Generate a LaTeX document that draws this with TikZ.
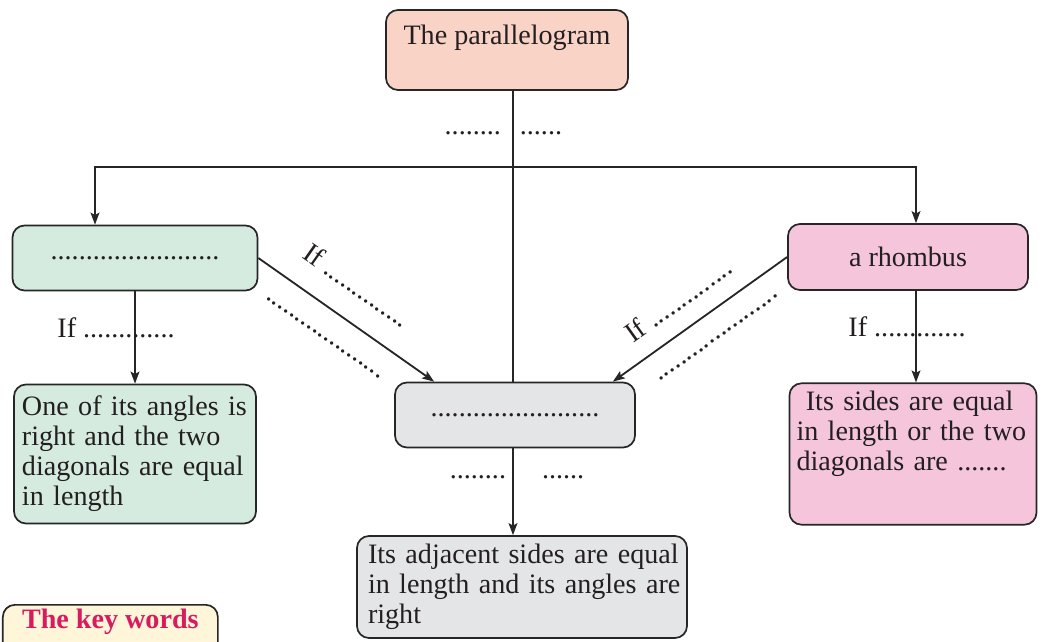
\documentclass[tikz,border=0pt]{standalone}
\usepackage{fontspec}
\setmainfont{Liberation Serif}
\usetikzlibrary{arrows.meta,positioning}
\definecolor{ink}{HTML}{231F20}
\definecolor{line}{HTML}{262626}
\definecolor{peach}{HTML}{F9D4C6}
\definecolor{mint}{HTML}{D6EBDF}
\definecolor{rose}{HTML}{F5C5DC}
\definecolor{mist}{HTML}{E4E5E7}
\definecolor{cream}{HTML}{FFF5D9}
\definecolor{keyred}{HTML}{D81B5E}

\begin{document}
\begin{tikzpicture}[
  x=0.25mm, y=-0.25mm,
  text=ink,
  font=\fontsize{20}{21.3}\selectfont,
  box/.style={draw=line, line width=1.2pt, rounded corners=3mm, inner sep=2mm},
  note/.style={box, minimum height=34.75mm, align=left},
  arrow/.style={-{Stealth[length=3mm, width=2.2mm, inset=.6mm]}, draw=line, line width=1.3pt},
  link/.style={draw=line, line width=1.3pt},
  hint/.style={inner sep=0pt, text depth=0pt}
]
  \useasboundingbox (0,0) rectangle (1044,642);
  \clip (0,0) rectangle (1044,642);
  \node[box, fill=peach, minimum width=60.5mm, inner ysep=0pt,
    text height=8.75mm, text depth=11.25mm] (parallelogram) at (507,50)
    {The parallelogram};
  \node[box, fill=mint, minimum width=61.25mm, minimum height=16.25mm] (rectangle) at (135,258)
    {........................};
  \node[box, fill=rose, minimum width=60mm, minimum height=16.5mm] (rhombus) at (908,257)
    {a rhombus};
  \node[box, fill=mist, minimum width=60mm, minimum height=16.25mm] (square) at (515,415)
    {........................};
  \node[note, fill=mint, minimum width=60.5mm, text width=56.5mm] (rectprop) at (135,454)
    {One of its angles is\\right and the two\\diagonals are equal\\in length};
  \node[note, fill=rose, minimum width=61.75mm, text width=58.25mm, inner xsep=1.75mm] (rhombprop) at (913,454)
    {\ Its sides are equal\\in length or the two\\diagonals are .......\\[4mm]\mbox{}};
  \node[box, fill=mist, minimum width=82.5mm, minimum height=25.5mm, text width=80mm,
    inner xsep=1.25mm, align=left] (squareprop) at (522,587)
    {\hspace{1.5mm}Its adjacent sides are equal\\\hspace{1.5mm}in length and its angles are\\\hspace{1.5mm}right};
  \node[box, fill=cream, text=keyred, font=\fontsize{20}{21.3}\selectfont\bfseries,
    anchor=north west, minimum width=53.75mm, inner ysep=0pt,
    text height=6mm, text depth=8mm] (keywords) at (2,604) {The key words};

  \coordinate (hub) at (513,167);
  \coordinate (leftdrop) at (95,167);
  \coordinate (rightdrop) at (916,167);

  \draw[link] (parallelogram.south -| hub) -- (square.north -| hub)
    node[pos=.15, anchor=base, xshift=-2.4mm, hint] {........\hspace{4.75mm}......};
  \draw[arrow] (hub) -| (rectangle.north -| leftdrop);
  \draw[arrow] (hub) -| (rhombus.north -| rightdrop);
  \draw[arrow] (rectangle.east) -- ([xshift=10mm]square.north west)
    node[pos=.45, sloped, above=6mm, hint] {If ..............}
    node[pos=.46, sloped, below=6.5mm, hint, text height=1.5pt] {....................};
  \draw[arrow] (rhombus.west) -- ([xshift=-5.75mm]square.north east)
    node[pos=.53, sloped, above=4.5mm, hint] {If ..............}
    node[pos=.48, sloped, below=6mm, hint, text height=1.5pt] {.....................};
  \draw[arrow] (rectangle.south) -- (rectprop.north)
    node[midway, anchor=base, xshift=-4.75mm, hint] {If .............};
  \draw[arrow] (rhombus.south -| rightdrop) -- (rhombprop.north -| rightdrop)
    node[midway, anchor=base, xshift=-2.25mm, hint] {If .............};
  \draw[arrow] (square.south -| hub) -- (squareprop.north -| hub)
    node[pos=.35, anchor=base, xshift=1mm, hint] {........\hspace{9mm}......};
\end{tikzpicture}
\end{document}
